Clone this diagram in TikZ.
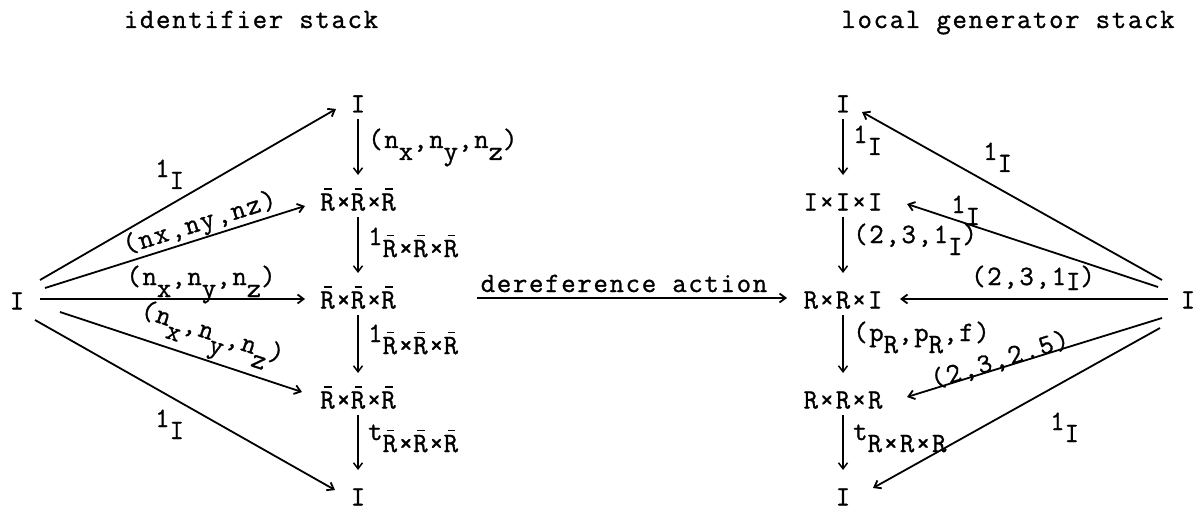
\documentclass[tikz,border=0pt]{standalone}
\usepackage{fontspec}
\setmonofont{Latin Modern Mono}[LetterSpace=6,FakeBold=1]
\usetikzlibrary{arrows.meta}
\newcommand\sbs[1]{\raisebox{-12pt}{#1}}
\newcommand\sbl[1]{\raisebox{-5pt}{#1}}
\newcommand\Rb{\rlap{\hspace{0.14em}\raisebox{0.74em}{\rule{0.27em}{1.6pt}}}R}
\begin{document}
\begin{tikzpicture}[x=1pt,y=-1pt,
  txt/.style={font=\ttfamily\fontsize{28}{32}\selectfont, inner sep=0pt},
  obj/.style={txt, text height=17pt, text depth=0pt},
  lab/.style={txt, anchor=base west},
  clab/.style={txt, anchor=base},
  ar/.style={-{Straight Barb[length=6pt,width=9pt]}, line width=1.8pt},
  var/.style={ar, line width=1.5pt}]
\useasboundingbox (0,0) rectangle (1202,516);

% headings
\node[clab] (h1) at (251,28) {identifier stack};
\node[clab] (h2) at (1008,28) {local generator stack};

% left column
\node[obj] (L)  at (17,301)  {I};
\node[obj] (T1) at (358,104) {I};
\node[obj] (A1) at (358,202) {\Rb×\Rb×\Rb};
\node[obj] (A2) at (358,300) {\Rb×\Rb×\Rb};
\node[obj] (A3) at (358,400) {\Rb×\Rb×\Rb};
\node[obj] (B1) at (358,497) {I};

% right column
\node[obj] (T2) at (843,104) {I};
\node[obj] (C1) at (843,202) {I×I×I};
\node[obj] (C2) at (843,300) {R×R×I};
\node[obj] (C3) at (843,400) {R×R×R};
\node[obj] (B2) at (843,497) {I};
\node[obj] (RR) at (1188,300) {I};

% vertical arrows left
\draw[var] ([yshift=-15pt]T1.center) -- ([yshift=27pt]A1.center);
\draw[var] ([yshift=-15pt]A1.center) -- ([yshift=27pt]A2.center);
\draw[var] ([yshift=-15pt]A2.center) -- ([yshift=27pt]A3.center);
\draw[var] ([yshift=-15pt]A3.center) -- ([yshift=27pt]B1.center);
\node[lab] (v1) at (368,148) {(n\sbs{x},n\sbs{y},n\sbs{z})};
\node[lab] (v2) at (368,245) {1\sbs{\Rb×\Rb×\Rb}};
\node[lab] (v3) at (368,342) {1\sbs{\Rb×\Rb×\Rb}};
\node[lab] (v4) at (368,440) {t\sbs{\Rb×\Rb×\Rb}};

% vertical arrows right
\draw[var] ([yshift=-15pt]T2.center) -- ([yshift=27pt]C1.center);
\draw[var] ([yshift=-15pt]C1.center) -- ([yshift=27pt]C2.center);
\draw[var] ([yshift=-15pt]C2.center) -- ([yshift=27pt]C3.center);
\draw[var] ([yshift=-15pt]C3.center) -- ([yshift=27pt]B2.center);
\node[lab] (w1) at (853,143) {1\sbs{I}};
\node[lab] (w2) at (853,243) {(2,3,1\sbs{I})};
\node[lab] (w3) at (853,341) {(p\sbs{R},p\sbs{R},f)};
\node[lab] (w4) at (853,440) {t\sbs{R×R×R}};

% left fan
\draw[ar] ([shift={(23,-21)}]L.center) -- ([shift={(-22,5)}]T1.center);
\draw[ar] ([shift={(28,-13)}]L.center) -- ([shift={(-53,4)}]A1.center);
\draw[ar] ([shift={(23,-2)}]L.center) -- ([shift={(-53,-1)}]A2.center);
\draw[ar] ([shift={(43,11)}]L.center) -- ([shift={(-56,-8)}]A3.center);
\draw[ar] ([shift={(18,19)}]L.center) -- ([shift={(-23,-7)}]B1.center);
\node[lab] (d1) at (155,177) {1\sbs{I}};
\node[txt, rotate=17.5] (d2) at (200,224) {(nx,ny,nz)};
\node[clab] (d3) at (201,285) {(n\sbs{x},n\sbs{y},n\sbs{z})};
\node[clab, rotate=-18.3] (d4) at (210,340) {(n\sbs{x},n\sbs{y},n\sbs{z})};
\node[lab] (d5) at (155,427) {1\sbs{I}};

% dereference action
\draw[ar] ([shift={(119,-2)}]A2.center) -- ([shift={(-56,-2)}]C2.center);
\node[clab] (da) at (624,292) {dereference action};

% right fan
\draw[ar] ([shift={(-26,-20)}]RR.center) -- ([shift={(19,8)}]T2.center);
\draw[ar] ([shift={(-30,-13)}]RR.center) -- ([shift={(64,2)}]C1.center);
\draw[ar] ([shift={(-20,-1)}]RR.center) -- ([shift={(57,-1)}]C2.center);
\draw[ar] ([shift={(-26,18)}]RR.center) -- ([shift={(64,-3)}]C3.center);
\draw[ar] ([shift={(-28,28)}]RR.center) -- ([shift={(30,-9)}]B2.center);
\node[lab] (e1) at (983,160) {1\sbs{I}};
\node[lab] (e2) at (951,213) {1\sbs{I}};
\node[clab] (e3) at (1033,285) {(2,3,1\sbl{I})};
\node[txt, rotate=17.2] (e4) at (1000,360) {(2,3,2.5)};
\node[lab] (e5) at (1050,430) {1\sbs{I}};
\end{tikzpicture}
\end{document}
